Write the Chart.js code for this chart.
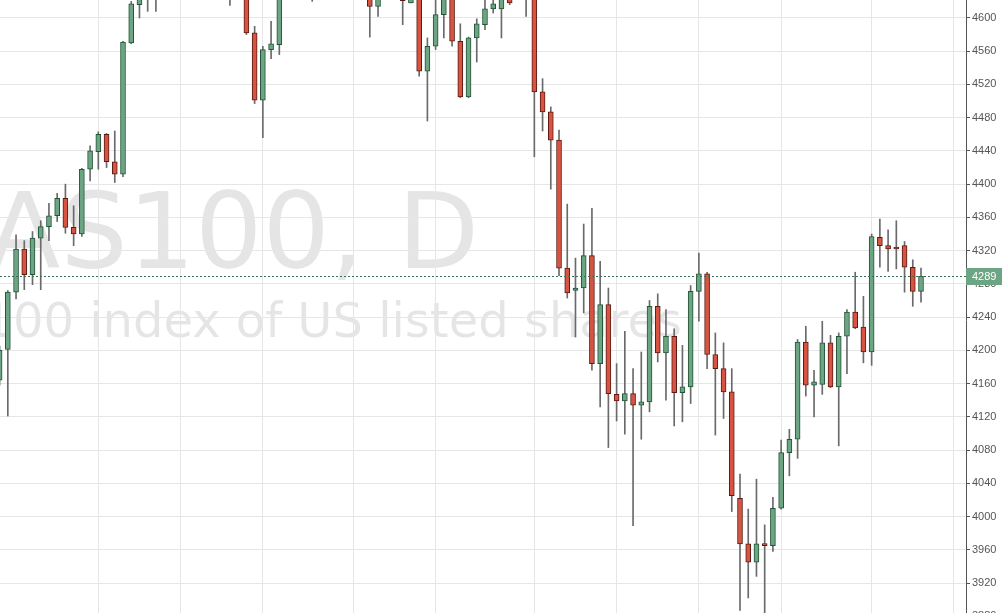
<!DOCTYPE html>
<html>
<head>
<meta charset="utf-8">
<script src="https://cdn.jsdelivr.net/npm/chart.js@4/dist/chart.umd.min.js"></script>
<style>
  html, body { margin: 0; padding: 0; background: #fff; overflow: hidden; }
  #wrap { position: relative; width: 1002px; height: 640px; }
</style>
</head>
<body>
<div id="wrap"><canvas id="c"></canvas></div>
<script>
// ---- Data (daily OHLC, NAS100) ----
const opens = [4164,4201,4270,4322,4291,4335,4349,4362,4383,4348,4340,4418,4439,4460,4427,4412,4570,4616,4628,4640,
  4632,4655,4668,4650,4672,4688,4675,4660,4645,4630,4648,4582,4501,4562,4568,4632,4650,4662,4645,4630,
  4652,4670,4685,4672,4655,4640,4614,4632,4648,4635,4618,4630,4536,4566,4604,4628,4572,4505,4576,4592,
  4611,4611,4630,4628,4640,4650,4511,4487,4453,4299,4272,4275,4314,4184,4255,4147,4139,4148,4134,4138,
  4253,4197,4217,4149,4156,4271,4292,4195,4178,4150,4022,3967,3945,3967,3965,4010,4077,4093,4210,4158,
  4159,4209,4156,4217,4246,4228,4198,4336,4326,4323,4326,4300,4271];
const highs = [4205,4272,4339,4332,4343,4356,4377,4389,4400,4374,4419,4446,4463,4461,4464,4572,4620,4640,4650,4652,
  4662,4676,4680,4683,4695,4700,4685,4670,4655,4656,4655,4590,4566,4596,4640,4658,4670,4672,4650,4660,
  4678,4692,4694,4680,4662,4648,4640,4656,4655,4642,4636,4636,4576,4626,4635,4634,4593,4577,4599,4622,
  4624,4638,4640,4648,4660,4655,4527,4493,4465,4376,4311,4352,4371,4307,4275,4184,4223,4178,4198,4260,
  4268,4249,4226,4206,4278,4317,4294,4221,4209,4178,4051,4009,4045,3990,4023,4092,4105,4213,4229,4176,
  4235,4218,4221,4249,4294,4265,4340,4358,4345,4356,4331,4309,4299];
const lows = [4158,4121,4262,4273,4279,4273,4332,4355,4341,4326,4337,4404,4418,4420,4402,4409,4569,4600,4608,4608,
  4626,4645,4642,4640,4663,4666,4648,4633,4615,4624,4580,4497,4456,4551,4556,4624,4640,4636,4620,4626,
  4646,4662,4664,4648,4630,4577,4602,4625,4628,4592,4618,4530,4476,4562,4576,4566,4504,4504,4547,4586,
  4606,4576,4616,4625,4602,4433,4464,4394,4290,4263,4216,4245,4176,4132,4083,4115,4099,3989,4093,4126,
  4186,4140,4109,4114,4136,4235,4178,4098,4118,4006,3887,3902,3928,3880,3958,4009,4049,4070,4145,4120,
  4147,4155,4085,4172,4226,4185,4182,4300,4295,4298,4270,4253,4258];
const closes = [4200,4270,4322,4291,4335,4349,4362,4383,4348,4340,4418,4440,4460,4427,4412,4571,4617,4630,4640,4632,
  4655,4668,4650,4672,4688,4675,4660,4645,4630,4648,4582,4501,4562,4569,4632,4650,4662,4645,4630,4652,
  4670,4685,4672,4655,4640,4614,4632,4648,4635,4621,4628,4536,4566,4604,4628,4572,4505,4576,4593,4611,
  4617,4630,4618,4640,4650,4511,4487,4453,4299,4269,4275,4314,4184,4255,4148,4139,4148,4134,4138,4253,
  4197,4217,4149,4156,4271,4292,4195,4178,4150,4025,3967,3945,3967,3965,4010,4077,4093,4210,4158,4162,
  4209,4156,4217,4246,4227,4198,4337,4326,4322,4322,4300,4271,4289];
const gridDays = [12,22,32,43,53,65,75,85,95,106,116];   // vertical grid positions (bar index)
const lastPrice = 4289;
const symbolText = "NAS100, D";
const descText = "NASDAQ 100 index of US listed shares";

// ---- Styles ----
const UP = '#6ba583', DOWN = '#d75442', UP_B = '#225437', DOWN_B = '#5b1a13', WICK = '#6a6a6c';
const GRID = '#e6e6e6';

const idx = opens.map((_, i) => i);
const isUp = idx.map(i => closes[i] >= opens[i]);

const watermark = {
  id: 'watermark',
  beforeDraw(chart) {
    const ctx = chart.ctx;
    ctx.save();
    ctx.fillStyle = '#ffffff';
    ctx.fillRect(0, 0, chart.width, chart.height);
    ctx.fillStyle = 'rgba(0,0,0,0.1)';
    ctx.textAlign = 'right';
    ctx.textBaseline = 'alphabetic';
    ctx.font = '106px "DejaVu Sans"';
    ctx.fillText(symbolText, 479, 268);
    ctx.font = '48px "DejaVu Sans"';
    ctx.fillText(descText, 682, 337);
    ctx.restore();
  }
};

const priceLine = {
  id: 'priceLine',
  afterDraw(chart) {
    const ctx = chart.ctx, ys = chart.scales.y, area = chart.chartArea;
    const y = Math.round(ys.getPixelForValue(lastPrice)) + 0.5;
    ctx.save();
    ctx.strokeStyle = '#3b6e52';
    ctx.lineWidth = 1;
    ctx.setLineDash([2, 2]);
    ctx.beginPath();
    ctx.moveTo(area.left, y);
    ctx.lineTo(area.right, y);
    ctx.stroke();
    ctx.setLineDash([]);
    ctx.fillStyle = UP;
    ctx.fillRect(area.right, y - 8.5, chart.width - area.right, 17);
    ctx.fillStyle = '#ffffff';
    ctx.font = '11px "Liberation Sans", Arial, sans-serif';
    ctx.textAlign = 'left';
    ctx.textBaseline = 'middle';
    ctx.fillText(String(lastPrice), area.right + 6, y + 0.5);
    ctx.restore();
  }
};

new Chart(document.getElementById('c'), {
  type: 'bar',
  data: {
    datasets: [
      {
        label: 'body',
        data: idx.map(i => ({ x: i, y: [opens[i], closes[i]] })),
        backgroundColor: idx.map(i => isUp[i] ? UP : DOWN),
        borderColor: idx.map(i => isUp[i] ? UP_B : DOWN_B),
        borderWidth: 1,
        borderSkipped: false,
        barThickness: 5,
        minBarLength: 2,
        grouped: false
      },
      {
        label: 'wick',
        data: idx.map(i => ({ x: i, y: [lows[i], highs[i]] })),
        backgroundColor: WICK,
        borderWidth: 0,
        barThickness: 1,
        grouped: false
      }
    ]
  },
  options: {
    responsive: true,
    maintainAspectRatio: false,
    animation: false,
    events: [],
    layout: { padding: 0 },
    plugins: { legend: { display: false }, tooltip: { enabled: false } },
    scales: {
      x: {
        type: 'linear',
        min: 0.049,
        max: 117.47,
        offset: false,
        ticks: { display: false },
        grid: { color: GRID, drawTicks: false, offset: false },
        border: { display: false },
        afterBuildTicks(scale) { scale.ticks = gridDays.map(v => ({ value: v })); },
        afterFit(scale) { scale.height = 0; scale.paddingLeft = 0; scale.paddingRight = 0; }
      },
      y: {
        type: 'linear',
        position: 'right',
        min: 3851.4,
        max: 4621.66,
        ticks: {
          stepSize: 40,
          includeBounds: false,
          padding: 2,
          color: '#555555',
          font: { family: '"Liberation Sans", Arial, sans-serif', size: 11 },
          callback: v => String(Math.round(v))
        },
        grid: { color: GRID, tickColor: '#555555', tickLength: 4 },
        border: { display: true, color: '#555555', width: 1 },
        afterFit(scale) { scale.width = 36; scale.paddingTop = 0; scale.paddingBottom = 0; }
      }
    }
  },
  plugins: [watermark, priceLine]
});
</script>
</body>
</html>
